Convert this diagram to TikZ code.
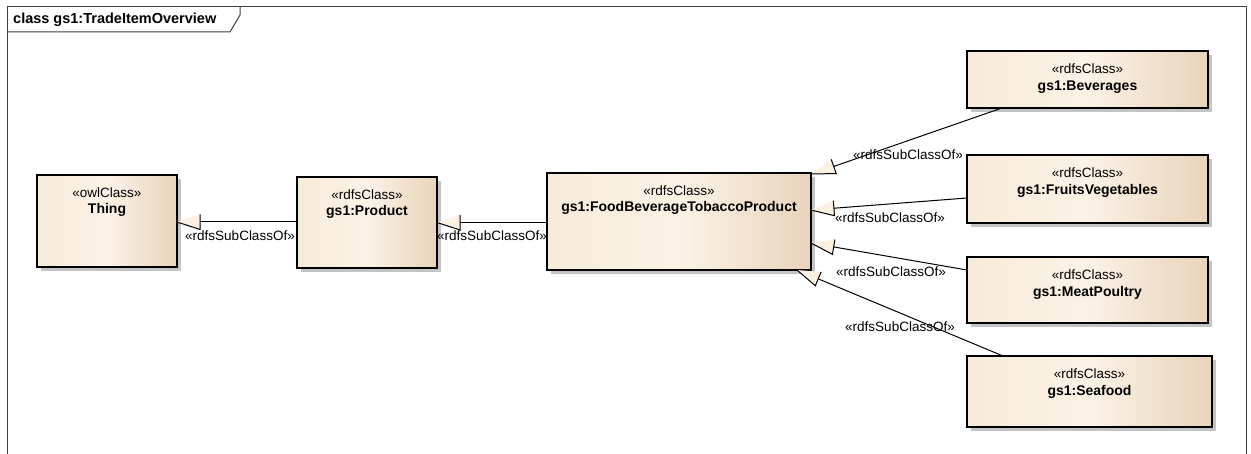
\documentclass[tikz,border=0pt]{standalone}
\usepackage{fontspec}
\setmainfont{Liberation Sans}
\usetikzlibrary{calc,shadows}
\definecolor{cL}{HTML}{F7EBDA}
\definecolor{cM}{HTML}{FBF2E6}
\definecolor{cR}{HTML}{E8D4BA}
\definecolor{shade}{HTML}{C4C4C4}
\definecolor{arrfill}{HTML}{FBF0E2}
\tikzset{
  cls/.style={draw=black, line width=1.3pt, left color=cL, right color=cR, middle color=cM,
    anchor=north west, inner sep=0pt, outer sep=0pt,
    drop shadow={shadow xshift=4pt, shadow yshift=-4pt, fill=shade, opacity=1}},
  st/.style={font=\fontsize{13.5}{15}\selectfont, inner sep=0pt},
  nm/.style={font=\fontsize{14}{16}\selectfont\bfseries, inner sep=0pt},
  conn/.style={draw=black, line width=1pt},
  lbl/.style={font=\fontsize{13.5}{15}\selectfont, inner sep=0pt, fill=none},
  frameline/.style={draw=black!75, line width=1pt},
}
\newcommand\genarrow[2]{%
  \coordinate (B) at ($(#2)!23pt!(#1)$);
  \draw[conn] (#1) -- (B);
  \fill[arrfill] (#2) -- ($(B)!7.5pt!90:(#2)$) -- ($(B)!7.5pt!-90:(#2)$) -- cycle;
  \draw[conn] ($(B)!7.5pt!-90:(#2)$) -- ($(B)!7.5pt!90:(#2)$) -- (#2);
}
\begin{document}
\begin{tikzpicture}[x=1pt,y=-1pt]
\useasboundingbox[fill=white] (0,0) rectangle (1251,454);
% frame
\draw[frameline] (7,454) -- (7,7) -- (1246,7) -- (1246,454);
\draw[frameline] (7,32) -- (230,32) -- (240,15) -- (240,7);
\node[nm, font=\fontsize{14.5}{16}\selectfont\bfseries, anchor=west] (title) at (13,20) {class gs1:TradeItemOverview};

% classes
\node[cls, minimum width=140pt, minimum height=92pt] (thing) at (37,175) {};
\node[st] (thingS) at ($(thing.north)+(0,18)$) {«owlClass»};
\node[nm] (thingN) at ($(thing.north)+(0,35)$) {Thing};

\node[cls, minimum width=140pt, minimum height=91pt] (prod) at (297,177) {};
\node[st] (prodS) at ($(prod.north)+(0,18)$) {«rdfsClass»};
\node[nm] (prodN) at ($(prod.north)+(0,35)$) {gs1:Product};

\node[cls, minimum width=264pt, minimum height=97pt] (food) at (547,173) {};
\node[st] (foodS) at ($(food.north)+(0,18)$) {«rdfsClass»};
\node[nm] (foodN) at ($(food.north)+(0,35)$) {gs1:FoodBeverageTobaccoProduct};

\node[cls, minimum width=241pt, minimum height=57pt] (bev) at (967,51) {};
\node[st] (bevS) at ($(bev.north)+(0,18)$) {«rdfsClass»};
\node[nm] (bevN) at ($(bev.north)+(0,36)$) {gs1:Beverages};

\node[cls, minimum width=241pt, minimum height=68pt] (fruit) at (967,155) {};
\node[st] (fruitS) at ($(fruit.north)+(0,18)$) {«rdfsClass»};
\node[nm] (fruitN) at ($(fruit.north)+(0,36)$) {gs1:FruitsVegetables};

\node[cls, minimum width=241pt, minimum height=66pt] (meat) at (967,257) {};
\node[st] (meatS) at ($(meat.north)+(0,18)$) {«rdfsClass»};
\node[nm] (meatN) at ($(meat.north)+(0,36)$) {gs1:MeatPoultry};

\node[cls, minimum width=245pt, minimum height=71pt] (sea) at (967,356) {};
\node[st] (seaS) at ($(sea.north)+(0,18)$) {«rdfsClass»};
\node[nm] (seaN) at ($(sea.north)+(0,36)$) {gs1:Seafood};

% connector end points
\coordinate (t1) at ($(thing.east)+(0,1)$);
\coordinate (s1) at (prod.west |- t1);
\coordinate (t2) at (prod.east);
\coordinate (s2) at (food.west |- t2);
\coordinate (s3) at ($(bev.south west)+(35,0)$);
\coordinate (t3) at ($(food.north east)+(1,1)$);
\coordinate (s4) at ($(fruit.west)+(0,9)$);
\coordinate (t4) at ($(food.north east)+(0,37)$);
\coordinate (s5) at ($(meat.west)+(0,-20)$);
\coordinate (t5) at ($(food.north east)+(0,70)$);
\coordinate (s6) at ($(sea.north west)+(36,0)$);
\coordinate (t6) at ($(food.south east)+(-14,0)$);

\genarrow{s1}{t1}
\genarrow{s2}{t2}
\genarrow{s3}{t3}
\genarrow{s4}{t4}
\genarrow{s5}{t5}
\genarrow{s6}{t6}

% labels
\node[lbl] (l1) at (240,236) {«rdfsSubClassOf»};
\node[lbl] (l2) at (492,236) {«rdfsSubClassOf»};
\node[lbl] (l3) at (908,155) {«rdfsSubClassOf»};
\node[lbl] (l4) at (890,218) {«rdfsSubClassOf»};
\node[lbl] (l5) at (891,272) {«rdfsSubClassOf»};
\node[lbl] (l6) at (900,327) {«rdfsSubClassOf»};
\end{tikzpicture}
\end{document}
